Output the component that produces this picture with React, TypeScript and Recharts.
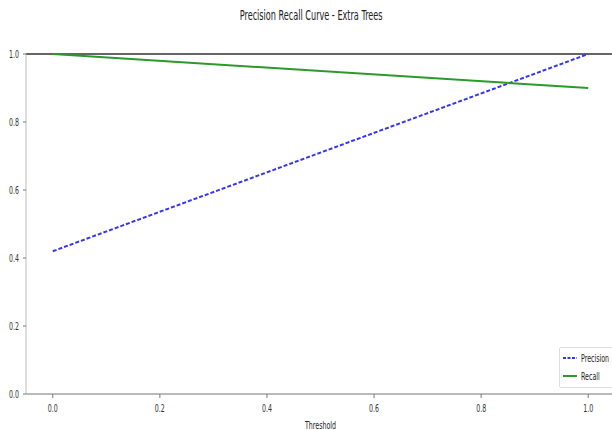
import { Line, LineChart, ReferenceLine, XAxis, YAxis } from "recharts"

const thresholds = [0.0, 1.0]
const precision = [0.42, 1.0]
const recall = [1.0, 0.9]
const xTicks = [0.0, 0.2, 0.4, 0.6, 0.8, 1.0]
const yTicks = [0.0, 0.2, 0.4, 0.6, 0.8, 1.0]

const data = thresholds.map((t, i) => ({ threshold: t, precision: precision[i], recall: recall[i] }))

const font = "'DejaVu Sans', sans-serif"
const squeeze = 0.6

// matplotlib output looked horizontally squashed, so text is scaled on x
function XTick(props: any) {
  const { x, y, payload } = props
  return (
    <g transform={`translate(${x},${y + 5})`}>
      <text transform={`scale(${squeeze},1)`} textAnchor="middle" dy="0.71em" fontSize={10.5} fontFamily={font} fill="#333">
        {payload.value.toFixed(1)}
      </text>
    </g>
  )
}

function YTick(props: any) {
  const { x, y, payload } = props
  return (
    <g transform={`translate(${x - 2},${y})`}>
      <text transform={`scale(${squeeze},1)`} textAnchor="end" dy="0.35em" fontSize={10.5} fontFamily={font} fill="#333">
        {payload.value.toFixed(1)}
      </text>
    </g>
  )
}

function XLabel(props: any) {
  const { viewBox } = props
  const cx = viewBox.x + viewBox.width / 2
  return (
    <g transform={`translate(${cx},${viewBox.y + 35})`}>
      <text transform={`scale(${squeeze},1)`} textAnchor="middle" fontSize={10.5} fontFamily={font} fill="#222">
        Threshold
      </text>
    </g>
  )
}

const squeezed = (s: string) => (
  <span style={{ display: "inline-block", transform: `scaleX(${squeeze})`, transformOrigin: "left center", whiteSpace: "nowrap" }}>{s}</span>
)

export default function App() {
  return (
    <div style={{ position: "absolute", left: 0, top: 0, width: 612, height: 430, overflow: "hidden", background: "#fff" }}>
      <div
        style={{
          position: "absolute",
          top: 7,
          left: 0,
          width: 622,
          textAlign: "center",
          fontFamily: font,
          fontSize: 14,
          color: "#222",
        }}
      >
        <span style={{ display: "inline-block", transform: "scaleX(0.58)", whiteSpace: "nowrap" }}>
          Precision Recall Curve - Extra Trees
        </span>
      </div>
      <LineChart width={620} height={430} data={data} margin={{ top: 54, right: 5, bottom: 0, left: 0 }}>
        <XAxis
          dataKey="threshold"
          type="number"
          domain={[-0.05, 1.05]}
          ticks={xTicks}
          height={36}
          stroke="#777"
          tickSize={4}
          tick={<XTick />}
          label={<XLabel />}
        />
        <YAxis
          type="number"
          domain={[0, 1]}
          ticks={yTicks}
          width={26}
          stroke="#bbb"
          tickLine={{ stroke: "#777" }}
          tickSize={3}
          tick={<YTick />}
        />
        <ReferenceLine y={1} stroke="#333" strokeWidth={1.5} />
        <Line dataKey="precision" stroke="#3535f5" strokeWidth={2} strokeDasharray="4 2" dot={false} isAnimationActive={false} />
        <Line dataKey="recall" stroke="#2a9a2a" strokeWidth={2} dot={false} isAnimationActive={false} />
      </LineChart>
      <div
        style={{
          position: "absolute",
          left: 559,
          top: 347,
          width: 70,
          height: 41,
          border: "1px solid #dddddd",
          borderRadius: 2,
          background: "#fff",
          fontFamily: font,
          fontSize: 10.5,
          color: "#222",
          boxSizing: "border-box",
          padding: "1px 3px",
          lineHeight: "18px",
        }}
      >
        <div style={{ display: "flex", alignItems: "center", gap: 4 }}>
          <svg width={14} height={4} style={{ flex: "none" }}>
            <line x1={0} y1={2} x2={14} y2={2} stroke="#3535f5" strokeWidth={2} strokeDasharray="3 1.5" />
          </svg>
          {squeezed("Precision")}
        </div>
        <div style={{ display: "flex", alignItems: "center", gap: 4 }}>
          <svg width={14} height={4} style={{ flex: "none" }}>
            <line x1={0} y1={2} x2={14} y2={2} stroke="#2a9a2a" strokeWidth={2} />
          </svg>
          {squeezed("Recall")}
        </div>
      </div>
    </div>
  )
}
